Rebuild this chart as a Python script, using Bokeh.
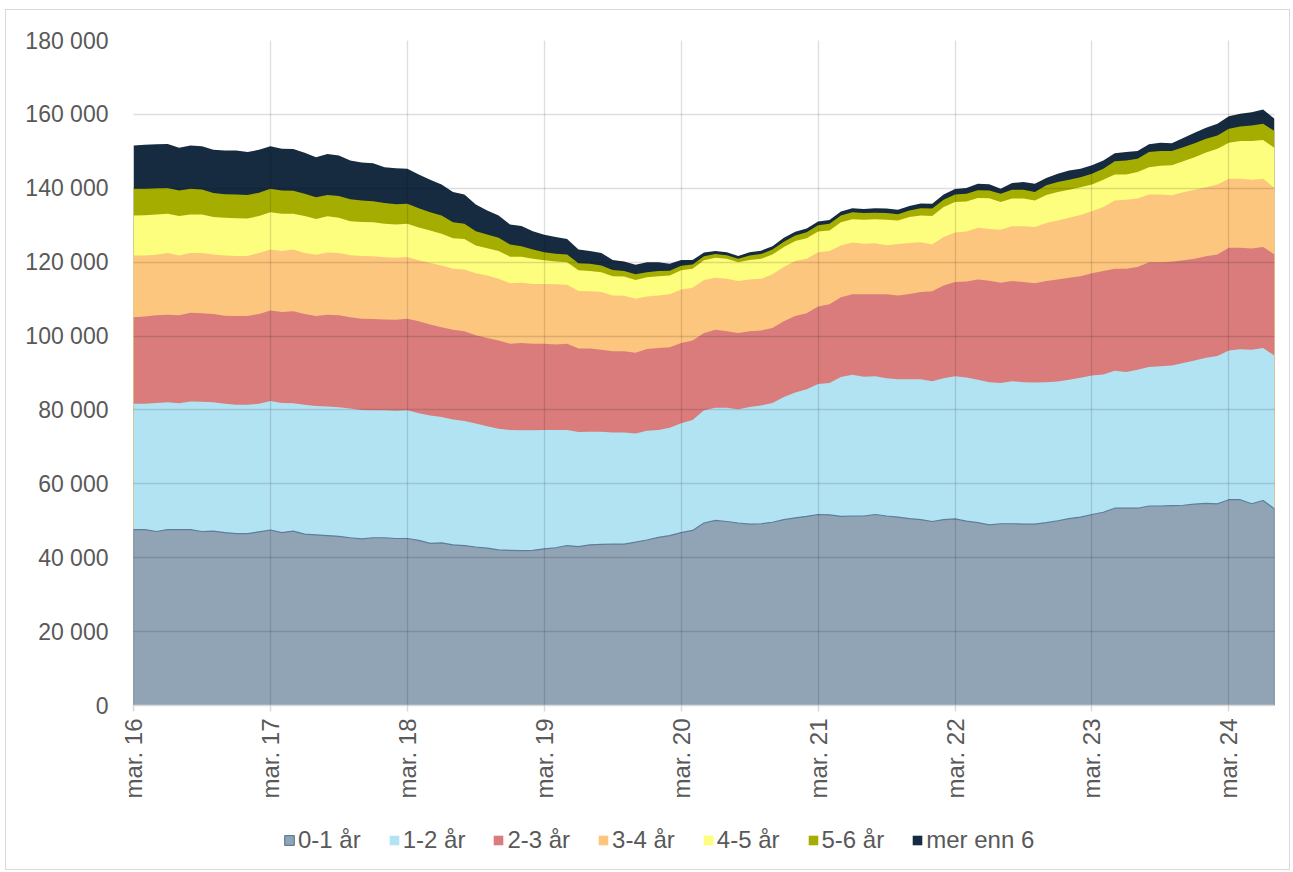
import numpy as np
from bokeh.plotting import figure
from bokeh.layouts import column
from bokeh.models import Legend, LegendItem, FixedTicker, Range1d
from bokeh.embed import file_html
from bokeh.resources import INLINE

# month index 0 = mars 2016 ... 100 = juli 2024
months = list(range(101))
tick_positions = [0, 12, 24, 36, 48, 60, 72, 84, 96]
tick_labels = ["mar. 16", "mar. 17", "mar. 18", "mar. 19", "mar. 20",
               "mar. 21", "mar. 22", "mar. 23", "mar. 24"]
y_ticks = [0, 20000, 40000, 60000, 80000, 100000, 120000, 140000, 160000, 180000]
y_tick_labels = ["0", "20 000", "40 000", "60 000", "80 000", "100 000",
                 "120 000", "140 000", "160 000", "180 000"]

series_names = ["0-1 år", "1-2 år", "2-3 år", "3-4 år", "4-5 år", "5-6 år", "mer enn 6"]
series_colors = ["#91A4B6", "#B2E3F3", "#DA7C7C", "#FDC67E", "#FDFD7E", "#A5AE00", "#172B40"]

# values in thousands
age_0_1 = [47.6, 47.6, 47.1, 47.6, 47.6, 47.6, 47.1, 47.2, 46.8, 46.5, 46.5, 47.0, 47.5, 46.8, 47.2, 46.4, 46.2, 46.0, 45.8, 45.4, 45.1, 45.4, 45.4, 45.2, 45.2,
           44.7, 43.9, 44.0, 43.5, 43.3, 42.9, 42.6, 42.1, 42.0, 41.9, 42.0, 42.4, 42.7, 43.3, 43.0, 43.5, 43.6, 43.7, 43.7, 44.2, 44.8, 45.5, 46.0, 46.8, 47.4,
           49.4, 50.1, 49.8, 49.4, 49.1, 49.2, 49.6, 50.3, 50.8, 51.2, 51.7, 51.6, 51.2, 51.3, 51.3, 51.7, 51.3, 51.0, 50.6, 50.3, 49.8, 50.3, 50.5, 49.9, 49.5,
           48.9, 49.2, 49.2, 49.1, 49.1, 49.5, 50.0, 50.6, 51.0, 51.7, 52.3, 53.4, 53.4, 53.4, 54.0, 54.0, 54.1, 54.2, 54.5, 54.7, 54.6, 55.7, 55.7, 54.6, 55.5, 53.2]
age_1_2 = [34.1, 34.1, 34.8, 34.5, 34.2, 34.7, 35.1, 34.9, 34.9, 34.9, 34.9, 34.7, 34.9, 35.1, 34.6, 35.0, 34.9, 34.9, 34.9, 35.0, 34.9, 34.5, 34.5, 34.6, 34.7,
           34.4, 34.6, 34.1, 33.9, 33.7, 33.4, 33.0, 32.8, 32.6, 32.6, 32.5, 32.2, 31.9, 31.3, 31.0, 30.6, 30.5, 30.2, 30.2, 29.4, 29.6, 29.1, 29.2, 29.6, 29.9,
           30.5, 30.5, 30.8, 30.8, 31.7, 32.0, 32.3, 33.2, 33.9, 34.4, 35.3, 35.7, 37.7, 38.2, 37.7, 37.4, 37.3, 37.3, 37.7, 38.0, 38.0, 38.3, 38.6, 38.9, 38.7,
           38.6, 38.1, 38.6, 38.4, 38.3, 38.0, 37.7, 37.6, 37.7, 37.6, 37.3, 37.2, 36.9, 37.5, 37.6, 37.8, 37.9, 38.5, 38.9, 39.4, 40.0, 40.4, 40.7, 41.7, 41.3, 41.5]
age_2_3 = [23.4, 23.6, 23.7, 23.7, 23.8, 24.0, 24.0, 23.9, 23.8, 24.0, 24.0, 24.3, 24.5, 24.6, 24.9, 24.6, 24.3, 24.9, 24.9, 24.7, 24.7, 24.7, 24.6, 24.6, 24.8,
           24.9, 24.6, 24.3, 24.3, 24.3, 23.9, 23.9, 23.9, 23.3, 23.6, 23.4, 23.3, 23.1, 23.3, 22.6, 22.5, 22.2, 22.0, 22.0, 21.9, 22.1, 22.2, 21.8, 21.7, 21.5,
           20.9, 21.1, 20.7, 20.6, 20.5, 20.3, 20.3, 20.5, 20.7, 20.6, 21.0, 21.3, 21.6, 21.8, 22.3, 22.2, 22.7, 22.7, 23.1, 23.6, 24.3, 25.1, 25.5, 26.0, 27.1,
           27.5, 27.1, 27.1, 27.1, 26.9, 27.4, 27.6, 27.6, 27.5, 27.7, 28.0, 27.6, 27.9, 27.8, 28.4, 28.2, 28.1, 27.8, 27.5, 27.5, 27.5, 27.8, 27.5, 27.4, 27.3, 27.4]
age_3_4 = [16.7, 16.5, 16.4, 16.7, 16.2, 16.2, 16.3, 16.1, 16.3, 16.3, 16.3, 16.5, 16.5, 16.5, 16.7, 16.5, 16.6, 16.8, 16.9, 16.8, 17.0, 17.0, 16.8, 16.8, 16.7,
           16.5, 16.7, 16.7, 16.5, 16.7, 16.8, 16.9, 16.7, 16.4, 16.3, 16.2, 16.2, 16.3, 16.0, 15.6, 15.5, 15.6, 15.1, 15.0, 14.6, 14.2, 14.2, 14.3, 14.5, 14.3,
           14.4, 14.1, 14.2, 14.1, 14.0, 14.0, 14.5, 14.7, 14.9, 14.7, 14.7, 14.4, 14.0, 14.0, 13.7, 13.8, 13.3, 13.9, 13.8, 13.5, 12.7, 13.1, 13.4, 13.5, 14.0,
           14.0, 14.4, 14.8, 15.1, 15.2, 15.7, 16.0, 16.2, 16.6, 16.8, 17.3, 18.5, 18.7, 18.5, 18.3, 18.3, 18.0, 18.4, 18.7, 18.7, 18.9, 18.7, 18.7, 18.6, 18.5, 18.0]
age_4_5 = [10.8, 10.9, 10.9, 10.6, 10.7, 10.4, 10.4, 10.1, 10.2, 10.2, 10.1, 10.0, 10.1, 10.1, 9.7, 10.0, 9.7, 9.8, 9.5, 9.2, 9.2, 9.2, 9.1, 9.0, 9.0,
           8.9, 8.8, 8.6, 8.3, 8.3, 7.5, 7.4, 7.5, 7.2, 7.1, 6.8, 6.4, 6.2, 6.1, 5.6, 5.5, 5.4, 5.2, 5.2, 5.1, 5.2, 5.2, 5.1, 5.2, 5.1,
           5.3, 5.4, 5.4, 5.1, 5.3, 5.4, 5.4, 5.4, 5.4, 5.6, 5.6, 5.6, 6.3, 6.3, 6.5, 6.5, 6.9, 6.4, 7.0, 7.2, 7.7, 8.1, 8.3, 8.1, 8.1,
           8.3, 7.5, 7.5, 7.5, 7.2, 7.6, 7.7, 7.6, 7.5, 7.2, 7.4, 7.0, 6.8, 7.2, 7.4, 7.8, 8.1, 8.4, 8.8, 9.4, 9.7, 9.7, 10.2, 10.5, 10.5, 10.8]
age_5_6 = [7.3, 7.2, 7.1, 7.0, 6.9, 7.0, 6.8, 6.5, 6.4, 6.4, 6.4, 6.3, 6.4, 6.3, 6.2, 6.0, 5.9, 5.8, 5.9, 5.9, 5.8, 5.7, 5.6, 5.5, 5.4,
           5.2, 4.9, 4.9, 4.3, 4.1, 3.9, 3.7, 3.6, 3.3, 2.8, 2.5, 2.2, 2.1, 2.1, 1.9, 2.0, 1.8, 1.7, 1.5, 1.5, 1.4, 1.4, 1.3, 1.2, 1.2,
           1.1, 1.0, 1.0, 0.9, 1.2, 1.3, 1.3, 1.4, 1.5, 1.6, 1.7, 1.8, 1.8, 1.9, 1.8, 1.8, 1.8, 1.7, 1.8, 2.0, 2.0, 2.0, 2.0, 2.1, 2.1,
           2.1, 2.2, 2.4, 2.4, 2.3, 2.6, 2.7, 2.7, 2.7, 2.9, 3.0, 3.6, 3.8, 3.6, 4.1, 4.0, 3.9, 3.8, 3.8, 3.7, 3.6, 3.8, 3.9, 4.2, 4.4, 4.6]
age_over_6 = [11.7, 11.9, 11.9, 11.9, 11.6, 11.7, 11.7, 11.7, 11.8, 11.9, 11.6, 11.6, 11.5, 11.3, 11.3, 11.1, 10.8, 11.1, 11.0, 10.5, 10.3, 10.3, 9.7, 9.7, 9.5,
              9.1, 8.8, 8.4, 8.2, 7.9, 7.2, 6.5, 6.0, 5.4, 5.5, 5.0, 4.7, 4.5, 4.2, 3.7, 3.4, 3.4, 2.7, 2.6, 2.6, 2.7, 2.4, 1.9, 1.6, 1.2,
              1.0, 0.8, 0.8, 0.8, 0.9, 0.9, 0.9, 1.1, 1.0, 1.0, 1.0, 1.0, 1.1, 1.1, 1.1, 1.2, 1.2, 1.2, 1.2, 1.3, 1.3, 1.4, 1.5, 1.6, 1.7,
              1.7, 1.4, 1.8, 2.1, 2.2, 2.0, 2.2, 2.5, 2.3, 2.3, 2.2, 2.2, 2.3, 2.1, 2.1, 2.2, 2.1, 2.5, 2.8, 3.0, 3.2, 3.4, 3.5, 3.6, 3.8, 3.3]

series = [age_0_1, age_1_2, age_2_3, age_3_4, age_4_5, age_5_6, age_over_6]
data = np.array(series) * 1000.0
cum = np.cumsum(data, axis=0)

FONT = "Liberation Sans"
TXT = "#595959"
OUTLINE_0 = "#5F7D98"

# ---------------- main chart ----------------
p = figure(width=1283, height=805, output_backend="svg", toolbar_location=None,
           x_range=Range1d(0, 100), y_range=Range1d(0, 180000),
           min_border_left=127, min_border_right=15, min_border_top=30, min_border_bottom=110)
p.outline_line_color = None
p.background_fill_color = "white"
p.border_fill_color = "white"

# draw from the top layer down (each from zero) so shared edges have no seams
for k in range(6, 0, -1):
    p.varea(x=months, y1=np.zeros(len(months)), y2=cum[k],
            fill_color=series_colors[k], fill_alpha=1.0)
xs = months + [months[-1], months[0]]
ys = list(cum[0]) + [0.0, 0.0]
p.patch(xs, ys, fill_color=series_colors[0], line_color=OUTLINE_0, line_width=1.2)

# grid lines drawn over the areas
for g, ticks in ((p.xgrid, tick_positions), (p.ygrid, y_ticks)):
    g.ticker = FixedTicker(ticks=ticks)
    g.grid_line_color = "#000000"
    g.grid_line_alpha = 0.13
    g.grid_line_width = 1.3
    g.level = "overlay"

xa = p.xaxis[0]
xa.ticker = FixedTicker(ticks=tick_positions)
xa.major_label_overrides = {t: l for t, l in zip(tick_positions, tick_labels)}
xa.major_label_orientation = np.pi / 2
xa.axis_line_color = "#D9D9D9"
xa.axis_line_width = 1.5
xa.major_tick_line_color = "#D9D9D9"
xa.major_tick_line_width = 1.5
xa.major_tick_out = 6
xa.major_tick_in = 0
xa.minor_tick_line_color = None
xa.major_label_standoff = 7
xa.major_label_text_font = FONT
xa.major_label_text_font_size = "24px"
xa.major_label_text_color = TXT

ya = p.yaxis[0]
ya.ticker = FixedTicker(ticks=y_ticks)
ya.major_label_overrides = {t: l for t, l in zip(y_ticks, y_tick_labels)}
ya.axis_line_color = None
ya.major_tick_line_color = None
ya.minor_tick_line_color = None
ya.major_label_standoff = 19
ya.major_label_text_font = FONT
ya.major_label_text_font_size = "23px"
ya.major_label_text_color = TXT

# ---------------- legend strip (frame is aligned with the chart's frame) ----------------
lg = figure(width=1283, height=54, output_backend="svg", toolbar_location=None,
            x_range=Range1d(0, 1), y_range=Range1d(0, 1),
            x_axis_type=None, y_axis_type=None,
            min_border_left=0, min_border_right=0, min_border_top=0, min_border_bottom=0)
lg.outline_line_color = None
lg.xgrid.visible = False
lg.ygrid.visible = False
lg.border_fill_color = "white"

# legend swatch renderers: one off-screen point each, so nothing is drawn in the strip
swatches = []
for k in range(7):
    if k == 0:
        r = lg.patch(x=[-5.0], y=[-5.0], fill_color=series_colors[k],
                     line_color=OUTLINE_0, line_width=1.2)
    else:
        r = lg.varea(x=[-5.0], y1=[-5.0], y2=[-5.0], fill_color=series_colors[k])
    swatches.append(r)

items = [LegendItem(label=series_names[k], renderers=[swatches[k]]) for k in range(7)]
legend = Legend(items=items, orientation="horizontal", location=(150, 15),
                glyph_width=12, glyph_height=12, label_standoff=3, spacing=27,
                padding=0, margin=0, border_line_color=None, background_fill_alpha=0,
                label_text_font=FONT, label_text_font_size="24px", label_text_color=TXT)
lg.add_layout(legend, "center")

layout = column(p, lg, spacing=0,
                styles={"border": "1px solid #D9D9D9", "margin-left": "5px", "margin-top": "9px"})

open("out.html", "w").write(file_html(layout, INLINE))
